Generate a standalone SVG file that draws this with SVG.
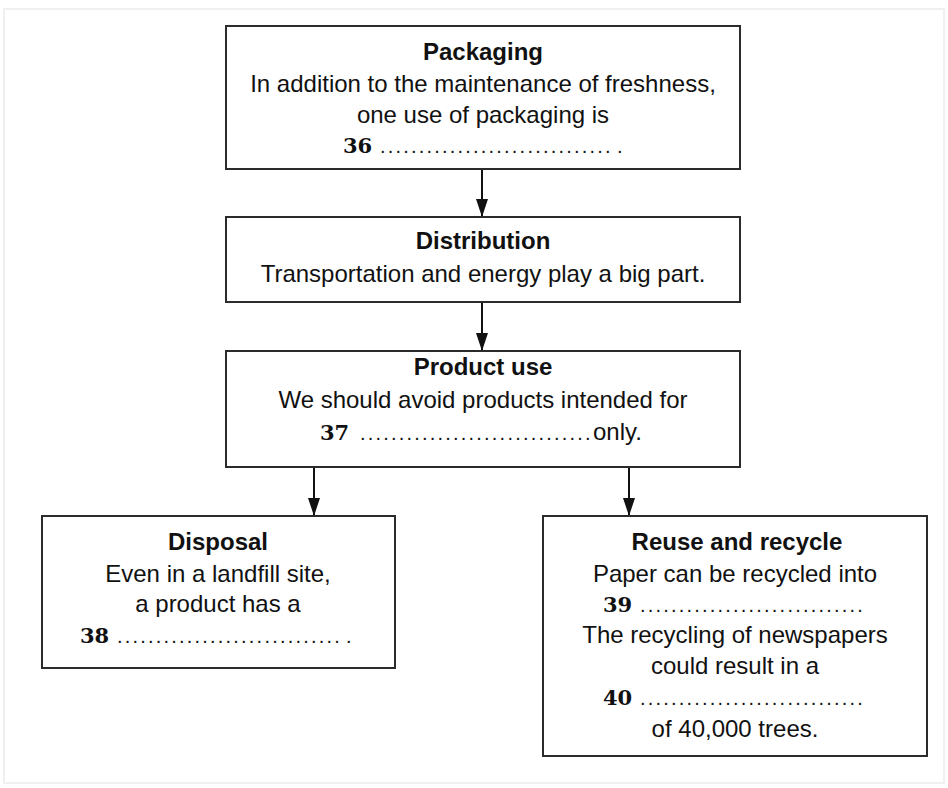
<svg xmlns="http://www.w3.org/2000/svg" width="948" height="788" viewBox="0 0 948 788">
<style>
.box{fill:#fff;stroke:#2b2b2b;stroke-width:2}
.t{font-family:"Liberation Sans",Arial,sans-serif;font-size:24px;fill:#111;text-anchor:middle}
.l{font-family:"Liberation Sans",Arial,sans-serif;font-size:24px;fill:#111;text-anchor:start}
.h{font-weight:bold}
.num{font-family:"DejaVu Serif",serif;font-weight:bold;font-size:21px}
.dots{font-size:20px;letter-spacing:2.2px}
.conn{stroke:#111;stroke-width:2;fill:none}
</style>
<defs>
<marker id="ah" markerUnits="userSpaceOnUse" markerWidth="18" markerHeight="12" viewBox="0 0 18 12" refX="18" refY="6" orient="auto">
<path d="M0,0 L18,6 L0,12 z" fill="#111"/>
</marker>
</defs>
<rect width="948" height="788" fill="#fff"/>
<rect x="4" y="9" width="940" height="774" fill="none" stroke="#ececec" stroke-width="1.5"/>
<g id="connectors">
<path class="conn" d="M482 169 L482 217" marker-end="url(#ah)"/>
<path class="conn" d="M482 302 L482 351" marker-end="url(#ah)"/>
<path class="conn" d="M314 467 L314 516" marker-end="url(#ah)"/>
<path class="conn" d="M629 467 L629 516" marker-end="url(#ah)"/>
</g>
<g id="packaging">
<rect class="box" x="226" y="26" width="514" height="143"/>
<text class="t h" x="483" y="60">Packaging</text>
<text class="t" x="483" y="92">In addition to the maintenance of freshness,</text>
<text class="t" x="483" y="123">one use of packaging is</text>
<text class="l" y="153"><tspan class="num" x="343">36</tspan><tspan class="dots" x="380">..............................</tspan><tspan class="dots" x="617">.</tspan></text>
</g>
<g id="distribution">
<rect class="box" x="226" y="217" width="514" height="85"/>
<text class="t h" x="483" y="249">Distribution</text>
<text class="t" x="483" y="282">Transportation and energy play a big part.</text>
</g>
<g id="product-use">
<rect class="box" x="226" y="351" width="514" height="116"/>
<text class="t h" x="483" y="375">Product use</text>
<text class="t" x="483" y="408">We should avoid products intended for</text>
<text class="l" y="440"><tspan class="num" x="320">37</tspan><tspan class="dots" x="360">..............................</tspan><tspan x="593">only.</tspan></text>
</g>
<g id="disposal">
<rect class="box" x="42" y="516" width="353" height="152"/>
<text class="t h" x="218" y="550">Disposal</text>
<text class="t" x="218" y="582">Even in a landfill site,</text>
<text class="t" x="218" y="612">a product has a</text>
<text class="l" y="643"><tspan class="num" x="80">38</tspan><tspan class="dots" x="117">.............................</tspan><tspan class="dots" x="346">.</tspan></text>
</g>
<g id="reuse-recycle">
<rect class="box" x="543" y="516" width="384" height="240"/>
<text class="t h" x="737" y="550">Reuse and recycle</text>
<text class="t" x="735" y="582">Paper can be recycled into</text>
<text class="l" y="612"><tspan class="num" x="603">39</tspan><tspan class="dots" x="640">.............................</tspan></text>
<text class="t" x="735" y="643">The recycling of newspapers</text>
<text class="t" x="735" y="674">could result in a</text>
<text class="l" y="705"><tspan class="num" x="603">40</tspan><tspan class="dots" x="640">.............................</tspan></text>
<text class="t" x="735" y="737">of 40,000 trees.</text>
</g>
</svg>
